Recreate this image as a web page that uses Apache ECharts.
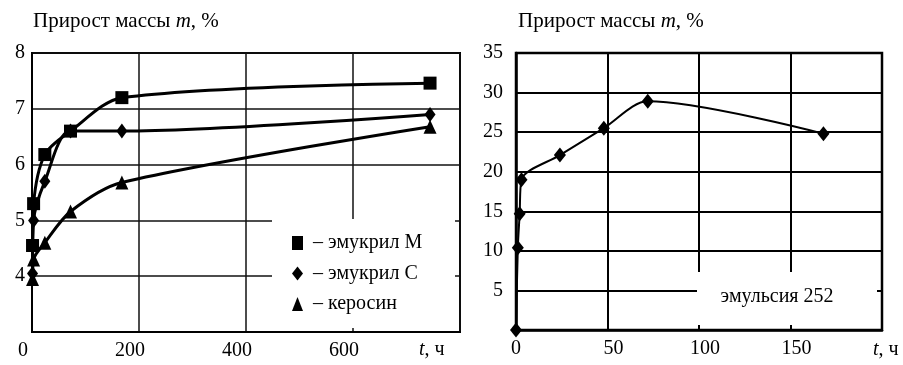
<!DOCTYPE html>
<html>
<head>
<meta charset="utf-8">
<script src="https://cdn.jsdelivr.net/npm/echarts@6/dist/echarts.min.js"></script>
<style>
  html, body { margin: 0; padding: 0; background: #fff; }
  #chart { width: 903px; height: 365px; }
</style>
</head>
<body>
<div id="chart"></div>
<script>
// Left panel: mass gain vs exposure time for three liquids
const tHours = [1, 3, 24, 72, 168, 744];
const emukrilM = [4.55, 5.3, 6.18, 6.6, 7.2, 7.46];
const emukrilC = [4.05, 5.0, 5.7, 6.6, 6.6, 6.9];
const kerosin = [3.95, 4.3, 4.6, 5.16, 5.68, 6.68];
const leftNames = ['эмукрил М', 'эмукрил С', 'керосин'];

// Right panel: mass gain in emulsion 252
const tEmulsion = [0, 1, 2, 3, 24, 48, 72, 168];
const emulsion252 = [0, 10.4, 14.7, 19.0, 22.1, 25.5, 28.9, 24.8];
const rightNote = 'эмульсия 252';

const axisTitle = '{a|Прирост массы }{i|m}{a|, %}';
const timeTitle = '{i|t}{a|, ч}';

const FONT = 'Liberation Serif';
const INK = '#000';

function pairs(xs, ys) { return xs.map((x, i) => [x, ys[i]]); }

function rich(size) {
  return {
    a: { fontFamily: FONT, fontSize: size, fill: INK, color: INK },
    i: { fontFamily: FONT, fontSize: size, fontStyle: 'italic', fill: INK, color: INK }
  };
}

const chart = echarts.init(document.getElementById('chart'), null, { renderer: 'canvas' });

const baseAxisLabel = { color: INK, fontFamily: FONT, fontSize: 20 };

chart.setOption({
  animation: false,
  backgroundColor: '#fff',
  grid: [
    { left: 32, top: 53, width: 428, height: 279, show: true, borderColor: INK, borderWidth: 2, backgroundColor: 'transparent' },
    { left: 516, top: 53, width: 366, height: 277, show: true, borderColor: INK, borderWidth: 2.5, backgroundColor: 'transparent' }
  ],
  xAxis: [
    {
      gridIndex: 0, type: 'value', min: 0, max: 800, interval: 200,
      axisLine: { show: true, lineStyle: { color: INK, width: 2 } },
      axisTick: { show: false },
      splitLine: { show: true, lineStyle: { color: '#111', width: 1.5 } },
      axisLabel: Object.assign({}, baseAxisLabel, {
        margin: 9,
        showMaxLabel: false,
        formatter: v => v === 800 ? '' : '{s|' + v + '}',
        rich: { s: { fontFamily: FONT, fontSize: 20, color: INK, padding: [0, 18, 0, 0] } }
      })
    },
    {
      gridIndex: 1, type: 'value', min: 0, max: 200, interval: 50,
      axisLine: { show: true, lineStyle: { color: INK, width: 2.5 } },
      axisTick: { show: false },
      splitLine: { show: true, lineStyle: { color: INK, width: 2 } },
      axisLabel: Object.assign({}, baseAxisLabel, {
        margin: 9,
        showMaxLabel: false,
        formatter: v => v === 200 ? '' : (v === 0 ? '{s|0}' : '{p|' + v + '}'),
        rich: {
          s: { fontFamily: FONT, fontSize: 20, color: INK },
          p: { fontFamily: FONT, fontSize: 20, color: INK, padding: [0, 0, 0, 12] }
        }
      })
    }
  ],
  yAxis: [
    {
      gridIndex: 0, type: 'value', min: 3, max: 8, interval: 1,
      axisLine: { show: true, lineStyle: { color: INK, width: 2 } },
      axisTick: { show: false },
      splitLine: { show: true, lineStyle: { color: '#111', width: 1.5 } },
      axisLabel: Object.assign({}, baseAxisLabel, { margin: 7, showMinLabel: false })
    },
    {
      gridIndex: 1, type: 'value', min: 0, max: 35, interval: 5,
      axisLine: { show: true, lineStyle: { color: INK, width: 2.5 } },
      axisTick: { show: false },
      splitLine: { show: true, lineStyle: { color: INK, width: 2 } },
      axisLabel: Object.assign({}, baseAxisLabel, { margin: 13, showMinLabel: false })
    }
  ],
  legend: {
    orient: 'vertical',
    left: 292, top: 233,
    padding: 0,
    itemWidth: 11, itemHeight: 14,
    itemGap: 10.5,
    z: 6,
    textStyle: { color: INK, fontFamily: FONT, fontSize: 20, lineHeight: 20, padding: [0, 0, 0, 5] },
    formatter: name => '– ' + name,
    data: [
      { name: leftNames[0], icon: 'rect' },
      { name: leftNames[1], icon: 'diamond' },
      { name: leftNames[2], icon: 'triangle' }
    ]
  },
  series: [
    {
      name: leftNames[0], type: 'line', xAxisIndex: 0, yAxisIndex: 0,
      data: pairs(tHours, emukrilM), smooth: 0.3,
      symbol: 'rect', symbolSize: 13,
      lineStyle: { color: INK, width: 3 }, itemStyle: { color: INK }
    },
    {
      name: leftNames[1], type: 'line', xAxisIndex: 0, yAxisIndex: 0,
      data: pairs(tHours, emukrilC), smooth: 0.3,
      symbol: 'diamond', symbolSize: [11, 15],
      lineStyle: { color: INK, width: 3 }, itemStyle: { color: INK }
    },
    {
      name: leftNames[2], type: 'line', xAxisIndex: 0, yAxisIndex: 0,
      data: pairs(tHours, kerosin), smooth: 0.3,
      symbol: 'triangle', symbolSize: [13, 14],
      lineStyle: { color: INK, width: 3 }, itemStyle: { color: INK }
    },
    {
      name: rightNote, type: 'line', xAxisIndex: 1, yAxisIndex: 1,
      data: pairs(tEmulsion, emulsion252), smooth: 0.3,
      symbol: 'diamond', symbolSize: [12, 15],
      lineStyle: { color: INK, width: 2 }, itemStyle: { color: INK }
    }
  ],
  graphic: [
    // white panels that hold the legend and the note
    { type: 'rect', z: 3, shape: { x: 272, y: 219, width: 183, height: 109 }, style: { fill: '#fff' } },
    { type: 'rect', z: 3, shape: { x: 697, y: 272, width: 180, height: 53 }, style: { fill: '#fff' } },
    {
      type: 'text', z: 5, left: 33, top: 11,
      style: { text: axisTitle, rich: rich(21), fill: INK }
    },
    {
      type: 'text', z: 5, left: 518, top: 11,
      style: { text: axisTitle, rich: rich(21), fill: INK }
    },
    {
      type: 'text', z: 5, left: 419, top: 340,
      style: { text: timeTitle, rich: rich(20), fill: INK }
    },
    {
      type: 'text', z: 5, left: 873, top: 340,
      style: { text: timeTitle, rich: rich(20), fill: INK }
    },
    {
      type: 'text', z: 5, x: 777, y: 297,
      style: { text: rightNote, fontFamily: FONT, fontSize: 20, fill: INK, align: 'center', verticalAlign: 'middle' }
    }
  ]
});
</script>
</body>
</html>
